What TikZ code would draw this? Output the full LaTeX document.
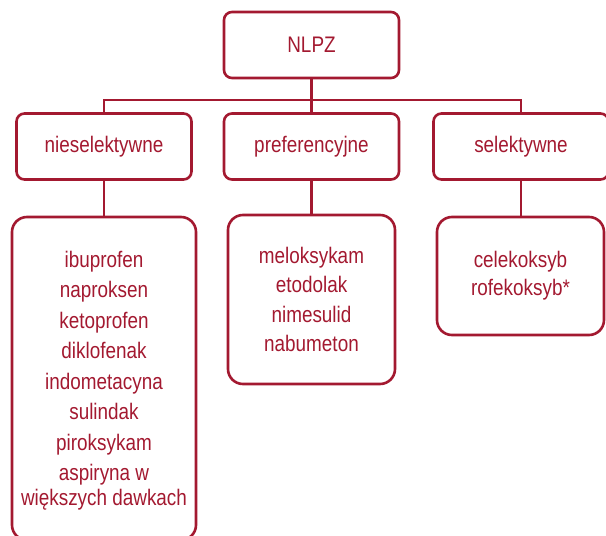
\documentclass[tikz,border=0pt]{standalone}
\usepackage{fontspec}
\setmainfont{Liberation Sans}[FakeStretch=0.84]
\definecolor{nred}{RGB}{163,25,48}
\begin{document}
\begin{tikzpicture}[x=1pt,y=-1pt,
  every node/.style={text=nred, font=\fontsize{22.5}{30.5}\selectfont, align=center, inner sep=0pt},
  catbox/.style={draw=nred, line width=2.6pt, rounded corners=8pt, minimum width=175pt, minimum height=66pt},
  listbox/.style={draw=nred, line width=2.6pt, rounded corners=15pt},
  conn/.style={draw=nred, line width=2.6pt}]
\useasboundingbox (0,0) rectangle (606,536);
\node[catbox] (nlpz) at (311.5,45) {NLPZ};
\node[catbox] (nies) at (104,146.5) {nieselektywne};
\node[catbox] (pref) at (311.5,146.5) {preferencyjne};
\node[catbox] (sel) at (521,146.5) {selektywne};
\node[listbox, minimum width=184pt, minimum height=323pt, text depth=0pt] (l1) at (104,378.5)
  {ibuprofen\\naproksen\\ketoprofen\\diklofenak\\indometacyna\\sulindak\\piroksykam\\aspiryna w\\[-5.5pt]większych dawkach};
\node[listbox, minimum width=167pt, minimum height=169pt, font=\fontsize{22.5}{29.5}\selectfont] (l2) at (311.5,299.5)
  {meloksykam\\etodolak\\nimesulid\\nabumeton};
\node[listbox, minimum width=167pt, minimum height=118pt, font=\fontsize{22.5}{28}\selectfont] (l3) at (520.5,276)
  {celekoksyb\\rofekoksyb*};
\coordinate (bus) at (0,100);
\draw[conn] (nlpz.south) -- (pref.north);
\draw[conn] (nies.north) -- (nies.north |- bus) -| (sel.north);
\draw[conn] (nies.south) -- (l1.north);
\draw[conn] (pref.south) -- (l2.north);
\draw[conn] (sel.south) -- (l3.north -| sel.south);
\end{tikzpicture}
\end{document}
